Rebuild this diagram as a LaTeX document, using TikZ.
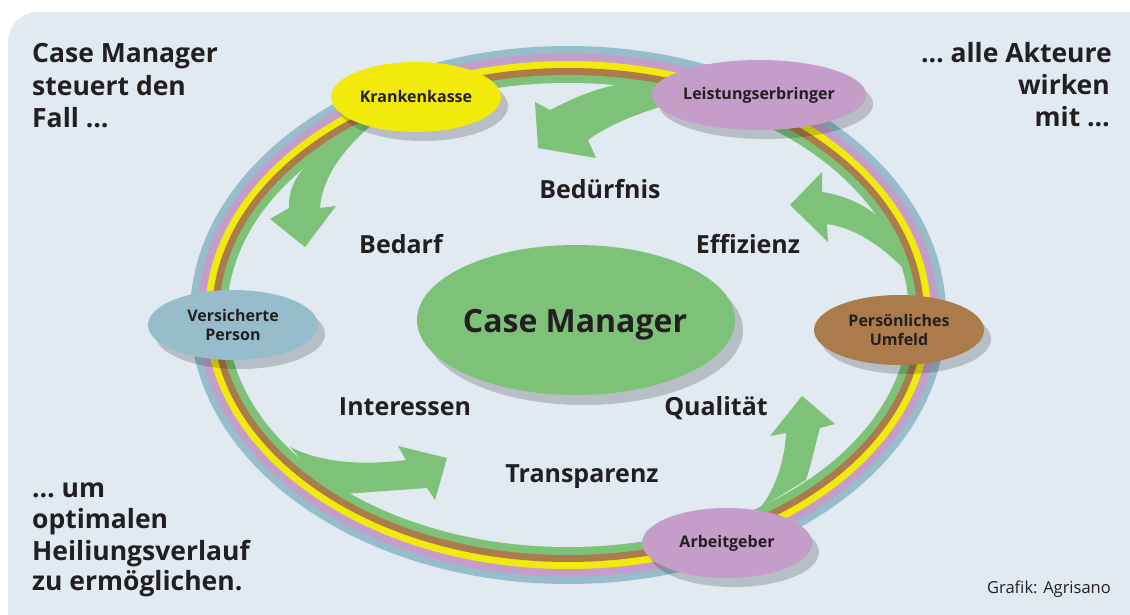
\documentclass[tikz,border=0pt]{standalone}
\usepackage{fontspec}
\setmainfont{Open Sans}
\usetikzlibrary{shapes.geometric,shadows}
\definecolor{bg}{HTML}{E1E9F1}
\definecolor{cblue}{HTML}{97BDCD}
\definecolor{cpurple}{HTML}{C49DC9}
\definecolor{cyellow}{HTML}{F2EA0B}
\definecolor{cbrown}{HTML}{AC7B4B}
\definecolor{cgreen}{HTML}{7DC278}
\definecolor{ink}{HTML}{231F20}
\begin{document}
\begin{tikzpicture}[x=1pt,y=-1pt,
  actor/.style={ellipse, minimum width=170pt, minimum height=70pt, inner sep=0pt, align=center, text=ink,
    font=\bfseries\fontsize{16}{19}\selectfont,
    drop shadow={shadow xshift=7pt, shadow yshift=-9pt, opacity=0.18, fill=black}},
  lbl/.style={text=ink, font=\bfseries\fontsize{25}{30}\selectfont, inner sep=0pt},
  corner/.style={text=ink, font=\bfseries\fontsize{26.5}{32}\selectfont, inner sep=0pt},
  bigarrow/.style={fill=cgreen}]
\useasboundingbox (0,0) rectangle (1130,615);
\fill[white] (0,0) rectangle (1130,615);
\fill[bg, rounded corners=30pt] (8,12) rectangle (1160,640);

% ring
\fill[cblue]   (568,315) ellipse [x radius=378pt, y radius=269pt];
\fill[cpurple] (568,315) ellipse [x radius=370.5pt, y radius=261.5pt];
\fill[cyellow] (568,315) ellipse [x radius=363pt, y radius=254pt];
\fill[cbrown]  (568,315) ellipse [x radius=356pt, y radius=247pt];
\fill[cgreen]  (568,315) ellipse [x radius=349pt, y radius=240pt];
\fill[bg]      (568,315) ellipse [x radius=341pt, y radius=232pt];

% block arrows
% top (from Leistungserbringer, to the left)
\fill[bigarrow] (535,102) -- (550,110) .. controls (570,100) and (590,90) .. (620,84)
  -- (700,97) .. controls (660,105) and (615,120) .. (588,140) -- (596,158) -- (538,148) -- cycle;
% top-left (from Krankenkasse, downwards)
\fill[bigarrow] (337,140) .. controls (300,165) and (288,185) .. (289,208) -- (270,219) -- (305,247)
  -- (336,206) -- (320,208) .. controls (322,180) and (340,150) .. (380,118) -- cycle;
% right (Effizienz)
\fill[bigarrow] (790,205) -- (822,172) -- (822,192) .. controls (850,196) and (875,210) .. (889,228)
  -- (903,268) .. controls (880,245) and (855,228) .. (827,224) -- (828,242) -- cycle;
% bottom-left (Interessen)
\fill[bigarrow] (447,458) -- (398,446) -- (406,460) .. controls (360,466) and (320,462) .. (290,447)
  -- (311,471) -- (345,494) .. controls (370,492) and (400,490) .. (427,488) -- (435,500) -- cycle;
% bottom-right (Qualitaet)
\fill[bigarrow] (802,396) -- (835,424) -- (820,428) .. controls (815,445) and (812,462) .. (806,480)
  -- (760,508) .. controls (775,490) and (785,460) .. (786,433) -- (770,436) -- cycle;

% centre
\node[ellipse, fill=cgreen, minimum width=318pt, minimum height=150pt, inner sep=0pt,
  drop shadow={shadow xshift=8pt, shadow yshift=-10pt, opacity=0.18, fill=black}] (cm) at (576,320) {};
\node[text=ink, font=\bfseries\fontsize{32}{36}\selectfont, inner sep=0pt, anchor=base] (cmt) at (575,332) {Case Manager};

% actors
\node[actor, fill=cyellow] (kk) at (416,97) {Krankenkasse};
\node[actor, fill=cpurple] (le) at (759,95) {Leistungserbringer};
\node[actor, fill=cblue] (vp) at (233,325) {Versicherte\\Person};
\node[actor, fill=cbrown] (pu) at (899,330) {Persönliches\\Umfeld};
\node[actor, fill=cpurple] (ag) at (727,543) {Arbeitgeber};

% labels
\node[lbl, anchor=base] (l1) at (600,198) {Bedürfnis};
\node[lbl, anchor=base] (l2) at (401,253) {Bedarf};
\node[lbl, anchor=base] (l3) at (748,253) {Effizienz};
\node[lbl, anchor=base] (l4) at (405,415) {Interessen};
\node[lbl, anchor=base] (l5) at (716,415) {Qualität};
\node[lbl, anchor=base] (l6) at (582,482) {Transparenz};

% corner texts
\node[corner, anchor=base west] (a1) at (32,63) {Case Manager};
\node[corner, anchor=base west] (a2) at (32,96) {steuert den};
\node[corner, anchor=base west] (a3) at (32,128) {Fall \dots};
\node[corner, anchor=base east] (b1) at (1112,63) {\dots\ alle Akteure};
\node[corner, anchor=base east] (b2) at (1110,95) {wirken};
\node[corner, anchor=base east] (b3) at (1110,127) {mit \dots};
\node[corner, anchor=base west] (c1) at (32,497) {\dots\ um};
\node[corner, anchor=base west] (c2) at (32,528) {optimalen};
\node[corner, anchor=base west] (c3) at (32,560) {Heiliungsverlauf};
\node[corner, anchor=base west] (c4) at (32,590) {zu ermöglichen.};
\node[text=ink, font=\fontsize{16.5}{18}\selectfont, inner sep=0pt, anchor=base east] (gr) at (1111,593) {Grafik: Agrisano};
\end{tikzpicture}
\end{document}
